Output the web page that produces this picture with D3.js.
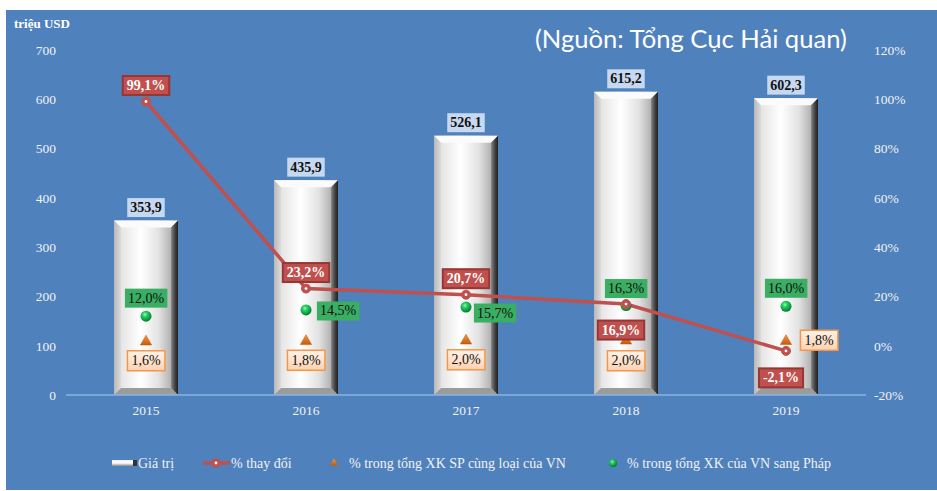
<!DOCTYPE html>
<html><head><meta charset="utf-8">
<script src="https://cdn.jsdelivr.net/npm/d3@7"></script>
<style>html,body{margin:0;padding:0;background:#fff;}svg{display:block;}</style>
</head><body><svg id="c" width="937" height="491"></svg>
<script>
// ---- data ----
const years = ["2015","2016","2017","2018","2019"];
const values = [353.9, 435.9, 526.1, 615.2, 602.3];            // Giá trị (triệu USD)
const changePct = [99.1, 23.2, 20.7, 16.9, -2.1];              // % thay đổi
const sameProdPct = [1.6, 1.8, 2.0, 2.0, 1.8];                 // % trong tổng XK SP cùng loại của VN
const franceSharePct = [12.0, 14.5, 15.7, 16.3, 16.0];         // % trong tổng XK của VN sang Pháp
const leftTicks = [0,100,200,300,400,500,600,700];
const rightTicks = [-20,0,20,40,60,80,100,120];
const legendLabels = ["Giá trị","% thay đổi","% trong tổng XK  SP cùng loại của VN","% trong tổng XK  của VN sang Pháp"];
const titleText = "(Nguồn: Tổng Cục Hải quan)";
const unitText = "triệu USD";

// ---- label placement (layout) ----
const changePlace = [[0,-16],[0,-16],[0,-16],[-5,26],[-5,27]];
const greenPlace = [[0,-18],[32,1],[29,6],[0,-17],[0,-18]];
const orangePlace = [[0,19],[0,19],[0,19],[0,20],[33,-1]];

const fmt = v => v.toFixed(1).replace(".", ",");
const svg = d3.select("#c");
const serif = "'Liberation Serif','Times New Roman',serif";

// background
svg.append("rect").attr("x",6).attr("y",10).attr("width",931).attr("height",480).attr("fill","#4f81bd");

const defs = svg.append("defs");
const bg = defs.append("linearGradient").attr("id","barG").attr("x1",0).attr("x2",1).attr("y1",0).attr("y2",0);
[[0,"#c4c4c4"],[0.12,"#e6e6e6"],[0.42,"#ffffff"],[0.7,"#e2e2e2"],[0.88,"#b5b5b5"],[1,"#9a9a9a"]].forEach(s=>bg.append("stop").attr("offset",s[0]).attr("stop-color",s[1]));
const rg = defs.append("linearGradient").attr("id","rightG").attr("x1",0).attr("x2",1);
[[0,"#8a8a8a"],[0.5,"#4a4a4a"],[1,"#1e1e1e"]].forEach(s=>rg.append("stop").attr("offset",s[0]).attr("stop-color",s[1]));
const lg = defs.append("linearGradient").attr("id","leftG").attr("x1",0).attr("x2",1);
[[0,"#b8b8b8"],[1,"#dcdcdc"]].forEach(s=>lg.append("stop").attr("offset",s[0]).attr("stop-color",s[1]));
const gg = defs.append("radialGradient").attr("id","greenG").attr("cx","40%").attr("cy","35%").attr("r","65%");
[[0,"#9ff5b5"],[0.35,"#1fd060"],[1,"#047a2f"]].forEach(s=>gg.append("stop").attr("offset",s[0]).attr("stop-color",s[1]));
const og = defs.append("linearGradient").attr("id","orG").attr("x1",0).attr("x2",0).attr("y1",0).attr("y2",1);
[[0,"#f79646"],[1,"#c65a06"]].forEach(s=>og.append("stop").attr("offset",s[0]).attr("stop-color",s[1]));
const pg = defs.append("linearGradient").attr("id","peachG").attr("x1",0).attr("x2",0).attr("y1",0).attr("y2",1);
[[0,"#fff3ea"],[1,"#fcd2b0"]].forEach(s=>pg.append("stop").attr("offset",s[0]).attr("stop-color",s[1]));
const legG = defs.append("linearGradient").attr("id","legG").attr("x1",0).attr("x2",0).attr("y1",0).attr("y2",1);
[[0,"#f0f0f0"],[0.5,"#ffffff"],[1,"#8c8c8c"]].forEach(s=>legG.append("stop").attr("offset",s[0]).attr("stop-color",s[1]));

// scales
const x = d3.scaleBand().domain(years).range([66,866]).paddingInner(0.6).paddingOuter(0.3);
const yL = d3.scaleLinear().domain([0,700]).range([395,50]);
const yR = d3.scaleLinear().domain([-20,120]).range([395,50]);
const cx = d => x(d) + x.bandwidth()/2;

// axes
const axL = svg.append("g").attr("transform","translate(56,0)")
  .call(d3.axisLeft(yL).tickValues(leftTicks).tickSize(0).tickPadding(0));
const axR = svg.append("g").attr("transform","translate(874,0)")
  .call(d3.axisRight(yR).tickValues(rightTicks).tickSize(0).tickPadding(0).tickFormat(d=>d+"%"));
const axX = svg.append("g").attr("transform","translate(0,395)")
  .call(d3.axisBottom(x).tickSize(0).tickPadding(10));
[axL,axR,axX].forEach(a=>{a.select(".domain").remove();a.selectAll("text").attr("fill","#f2f2f2").attr("font-family",serif).attr("font-size",13.5);});

// bars
const bw = x.bandwidth(), bv = 7;
const bars = svg.append("g").selectAll("g").data(years).join("g");
bars.each(function(d,i){
  const g = d3.select(this);
  const x0 = x(d), x1 = x0+bw, y0 = yL(values[i]), y1 = yL(0);
  g.append("rect").attr("x",x0).attr("y",y0).attr("width",bw).attr("height",y1-y0).attr("fill","url(#barG)");
  g.append("path").attr("d",`M${x0},${y0}L${x1},${y0}L${x1-bv},${y0+bv}L${x0+bv},${y0+bv}Z`).attr("fill","#fbfbfb");
  g.append("path").attr("d",`M${x0},${y0}L${x0+bv},${y0+bv}L${x0+bv},${y1-bv}L${x0},${y1}Z`).attr("fill","url(#leftG)");
  g.append("path").attr("d",`M${x1},${y0}L${x1},${y1}L${x1-bv},${y1-bv}L${x1-bv},${y0+bv}Z`).attr("fill","url(#rightG)");
  g.append("path").attr("d",`M${x0},${y1}L${x0+bv},${y1-bv}L${x1-bv},${y1-bv}L${x1},${y1}Z`).attr("fill","#9c9c9c");
});

// baseline
svg.append("line").attr("x1",66).attr("x2",866).attr("y1",395).attr("y2",395).attr("stroke","#8db3e2").attr("stroke-width",1.5);

// line series
const line = d3.line().x((d,i)=>cx(years[i])).y(d=>yR(d));
svg.append("path").datum(changePct).attr("d",line).attr("fill","none").attr("stroke","#c0504d").attr("stroke-width",3.5);

// triangles
svg.append("g").selectAll("path").data(sameProdPct).join("path")
  .attr("d",d3.symbol().type(d3.symbolTriangle).size(55))
  .attr("transform",(d,i)=>`translate(${cx(years[i])},${yR(d)})`)
  .attr("fill","url(#orG)").attr("stroke","#b85a10").attr("stroke-width",0.5);

// green dots
svg.append("g").selectAll("circle").data(franceSharePct).join("circle")
  .attr("cx",(d,i)=>cx(years[i])).attr("cy",d=>yR(d)).attr("r",5.5).attr("fill","url(#greenG)");

// line markers
const mk = svg.append("g").selectAll("g").data(changePct).join("g")
  .attr("transform",(d,i)=>`translate(${cx(years[i])},${yR(d)})`);
mk.append("circle").attr("r",4.5).attr("fill","#c0504d").attr("stroke","#c0504d");
mk.append("circle").attr("r",1.4).attr("fill","#fff");

// labels helper
function label(g, px, py, text, o){
  const t = g.append("text").attr("x",px).attr("y",py).attr("text-anchor","middle").attr("dominant-baseline","central")
    .attr("font-family",serif).attr("font-size",o.size||14).attr("font-weight",o.bold?"bold":"normal").attr("fill",o.color).text(text);
  const b = t.node().getBBox();
  g.insert("rect","text:last-child").attr("x",b.x-(o.px||4)).attr("y",py-(o.h/2)).attr("width",b.width+2*(o.px||4)).attr("height",o.h)
    .attr("fill",o.fill).attr("stroke",o.stroke||"none").attr("stroke-width",o.sw||0);
}
const labG = svg.append("g");
years.forEach((y,i)=>{
  const g1 = labG.append("g");
  label(g1, cx(y), yL(values[i])-13, fmt(values[i]), {bold:true,color:"#111",fill:"#c6d9f1",h:19,px:3});
});
franceSharePct.forEach((v,i)=>{
  const g1 = labG.append("g");
  label(g1, cx(years[i])+greenPlace[i][0], yR(v)+greenPlace[i][1], fmt(v)+"%", {color:"#111",fill:"#3aae62",h:19,px:3});
});
sameProdPct.forEach((v,i)=>{
  const g1 = labG.append("g");
  label(g1, cx(years[i])+orangePlace[i][0], yR(v)+orangePlace[i][1], fmt(v)+"%", {color:"#111",fill:"url(#peachG)",stroke:"#f79646",sw:1.5,h:20,px:4});
});
changePct.forEach((v,i)=>{
  const g1 = labG.append("g");
  label(g1, cx(years[i])+changePlace[i][0], yR(v)+changePlace[i][1], fmt(v)+"%", {bold:true,color:"#fff",fill:"#c0504d",stroke:"#953735",sw:2,h:19,px:4});
});

// title & unit
svg.append("text").attr("x",535).attr("y",48).attr("font-family","Lato,'Open Sans',sans-serif").attr("font-size",25.6).attr("fill","#fff").text(titleText);
svg.append("text").attr("x",14).attr("y",28).attr("font-family",serif).attr("font-weight","bold").attr("font-size",13).attr("fill","#fff").text(unitText);

// legend
const leg = svg.append("g").attr("font-family",serif).attr("font-size",14).attr("fill","#f2f2f2");
const ly = 463;
leg.append("rect").attr("x",112).attr("y",ly-3).attr("width",25).attr("height",6).attr("fill","url(#legG)");
leg.append("rect").attr("x",133).attr("y",ly-3).attr("width",4).attr("height",6).attr("fill","#333");
leg.append("text").attr("x",138).attr("y",ly).attr("dominant-baseline","central").text(legendLabels[0]);
leg.append("line").attr("x1",203).attr("x2",230).attr("y1",ly).attr("y2",ly).attr("stroke","#c0504d").attr("stroke-width",3.5);
leg.append("circle").attr("cx",216).attr("cy",ly).attr("r",4.5).attr("fill","#c0504d");
leg.append("circle").attr("cx",216).attr("cy",ly).attr("r",1.4).attr("fill","#fff");
leg.append("text").attr("x",231).attr("y",ly).attr("dominant-baseline","central").text(legendLabels[1]);
leg.append("path").attr("d",d3.symbol().type(d3.symbolTriangle).size(30)).attr("transform",`translate(334,${ly})`).attr("fill","url(#orG)");
leg.append("text").attr("x",349).attr("y",ly).attr("dominant-baseline","central").text(legendLabels[2]);
leg.append("circle").attr("cx",613).attr("cy",ly).attr("r",4).attr("fill","url(#greenG)");
leg.append("text").attr("x",627).attr("y",ly).attr("dominant-baseline","central").text(legendLabels[3]);
</script></body></html>
